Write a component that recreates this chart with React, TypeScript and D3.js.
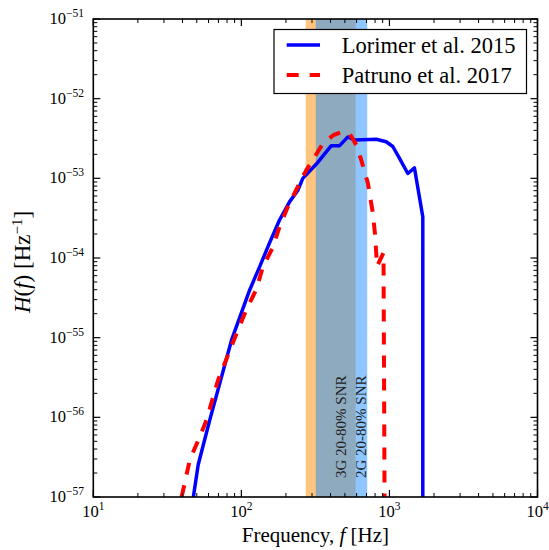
import React from "react";
import * as d3 from "d3";

// Lorimer et al. 2015 (solid blue)
const lorimerFreq = [47.4, 51.1, 61.2, 85.8, 114, 133, 155, 181, 212, 241, 260, 321, 405, 461, 524, 582, 815, 951, 1054, 1170, 1331, 1476, 1680, 1680];
const lorimerH = [1.0e-57, 2.54e-57, 9.3e-57, 9.3e-56, 4.0e-55, 7.8e-55, 1.55e-54, 3.0e-54, 5.1e-54, 7.1e-54, 1.0e-53, 1.51e-53, 2.57e-53, 2.57e-53, 3.31e-53, 3.02e-53, 3.09e-53, 2.88e-53, 2.51e-53, 1.78e-53, 1.15e-53, 1.35e-53, 3.3e-54, 1.0e-57];

// Patruno et al. 2017 (dashed red)
const patrunoFreq = [39.5, 44.9, 52.4, 58.2, 69.7, 95.0, 108, 126, 140, 164, 181, 206, 241, 275, 304, 356, 420, 480, 535, 597, 645, 715, 773, 800, 825, 912, 927];
const patrunoH = [1e-57, 2.95e-57, 5.7e-57, 9.3e-57, 2.95e-56, 1.26e-55, 2.24e-55, 4.0e-55, 7.8e-55, 1.39e-54, 2.47e-54, 4.4e-54, 7.9e-54, 1.28e-53, 1.7e-53, 2.75e-53, 3.5e-53, 3.82e-53, 3.7e-53, 2.63e-53, 1.7e-53, 8.7e-54, 3.65e-54, 1.95e-54, 7.9e-55, 1.16e-54, 1e-57];

// 20-80% SNR frequency bands
const band3G = [272, 591];
const band2G = [318, 708];

const xDecades = [1, 2, 3, 4];
const yDecades = [-57, -56, -55, -54, -53, -52, -51];

const legendLabels = ["Lorimer et al. 2015", "Patruno et al. 2017"];

const W = 549;
const H = 550;
const LEFT = 93.3;
const RIGHT = 537.5;
const TOP = 19;
const BOTTOM = 497;
const FONT = "Liberation Serif, serif";

const App = () => {
  const x = d3.scaleLog().domain([10, 1e4]).range([LEFT, RIGHT]);
  const y = d3.scaleLog().domain([1e-57, 1e-51]).range([BOTTOM, TOP]);

  const line = d3
    .line<[number, number]>()
    .x((d) => x(d[0]))
    .y((d) => y(d[1]));

  const lorimer = lorimerFreq.map((f, i) => [f, lorimerH[i]] as [number, number]);
  const patruno = patrunoFreq.map((f, i) => [f, patrunoH[i]] as [number, number]);

  const xMinor: number[] = [];
  xDecades.slice(0, -1).forEach((e) => {
    for (let k = 2; k < 10; k++) xMinor.push(k * Math.pow(10, e));
  });
  const yMinor: number[] = [];
  yDecades.slice(0, -1).forEach((e) => {
    for (let k = 2; k < 10; k++) yMinor.push(k * Math.pow(10, e));
  });

  const MAJ = 7;
  const MIN = 4;

  return (
    <svg width={W} height={H} style={{ position: "absolute", left: 0, top: 0, fontFamily: FONT }}>
      <rect width={W} height={H} fill="white" />
      <defs>
        <clipPath id="plot">
          <rect x={LEFT} y={TOP} width={RIGHT - LEFT} height={BOTTOM - TOP} />
        </clipPath>
      </defs>

      {/* bands */}
      <rect x={x(band3G[0])} y={TOP} width={x(band3G[1]) - x(band3G[0])} height={BOTTOM - TOP} fill="#ff8c00" fillOpacity={0.5} />
      <rect x={x(band2G[0])} y={TOP} width={x(band2G[1]) - x(band2G[0])} height={BOTTOM - TOP} fill="#1e90ff" fillOpacity={0.5} />

      <text transform={`translate(${x(band3G[1]) - 9.5},478) rotate(-90)`} fontSize={15} fill="#222">
        3G 20-80% SNR
      </text>
      <text transform={`translate(${x(band2G[1]) - 1.5},478) rotate(-90)`} fontSize={15} fill="#222">
        2G 20-80% SNR
      </text>

      <g clipPath="url(#plot)">
        <path d={line(lorimer) || ""} fill="none" stroke="#0000ff" strokeWidth={3.5} strokeLinejoin="round" />
        <path d={line(patruno) || ""} fill="none" stroke="#ff0000" strokeWidth={4} strokeDasharray="12 11" strokeLinejoin="round" />
      </g>

      {/* frame */}
      <rect x={LEFT} y={TOP} width={RIGHT - LEFT} height={BOTTOM - TOP} fill="none" stroke="black" strokeWidth={1.6} />

      {/* x ticks */}
      {xDecades.map((e) => {
        const px = x(Math.pow(10, e));
        return (
          <g key={"xt" + e}>
            <line x1={px} x2={px} y1={BOTTOM} y2={BOTTOM - MAJ} stroke="black" strokeWidth={1.2} />
            <line x1={px} x2={px} y1={TOP} y2={TOP + MAJ} stroke="black" strokeWidth={1.2} />
            <text x={px} y={517} textAnchor="middle" fontSize={16.5}>
              10<tspan dy={-7} fontSize={11.5}>{e}</tspan>
            </text>
          </g>
        );
      })}
      {xMinor.map((v, i) => (
        <g key={"xm" + i}>
          <line x1={x(v)} x2={x(v)} y1={BOTTOM} y2={BOTTOM - MIN} stroke="black" strokeWidth={1} />
          <line x1={x(v)} x2={x(v)} y1={TOP} y2={TOP + MIN} stroke="black" strokeWidth={1} />
        </g>
      ))}

      {/* y ticks */}
      {yDecades.map((e) => {
        const py = y(Math.pow(10, e));
        return (
          <g key={"yt" + e}>
            <line x1={LEFT} x2={LEFT + MAJ} y1={py} y2={py} stroke="black" strokeWidth={1.2} />
            <line x1={RIGHT} x2={RIGHT - MAJ} y1={py} y2={py} stroke="black" strokeWidth={1.2} />
            <text x={84} y={py + 5} textAnchor="end" fontSize={16.5}>
              10<tspan dy={-7} fontSize={11.5}>{"\u2212" + Math.abs(e)}</tspan>
            </text>
          </g>
        );
      })}
      {yMinor.map((v, i) => (
        <g key={"ym" + i}>
          <line x1={LEFT} x2={LEFT + MIN} y1={y(v)} y2={y(v)} stroke="black" strokeWidth={1} />
          <line x1={RIGHT} x2={RIGHT - MIN} y1={y(v)} y2={y(v)} stroke="black" strokeWidth={1} />
        </g>
      ))}

      {/* axis labels */}
      <text x={(LEFT + RIGHT) / 2} y={542} textAnchor="middle" fontSize={21}>
        Frequency, <tspan fontStyle="italic">f</tspan> [Hz]
      </text>
      <text transform={`translate(30,${(TOP + BOTTOM) / 2 + 4}) rotate(-90)`} textAnchor="middle" fontSize={23}>
        <tspan fontStyle="italic">H</tspan>(<tspan fontStyle="italic">f</tspan>)  [Hz<tspan dy={-8} fontSize={15}>{"\u22121"}</tspan><tspan dy={8}>]</tspan>
      </text>

      {/* legend */}
      <rect x={274} y={29.5} width={252.5} height={64} fill="white" stroke="black" strokeWidth={1.2} />
      <line x1={286.7} x2={320} y1={45} y2={45} stroke="#0000ff" strokeWidth={3.5} />
      <line x1={286.7} x2={320} y1={75} y2={75} stroke="#ff0000" strokeWidth={4} strokeDasharray="12 11" />
      {legendLabels.map((t, i) => (
        <text key={t} x={341.7} y={52.5 + i * 30} fontSize={22.5}>
          {t}
        </text>
      ))}
    </svg>
  );
};

export default App;
